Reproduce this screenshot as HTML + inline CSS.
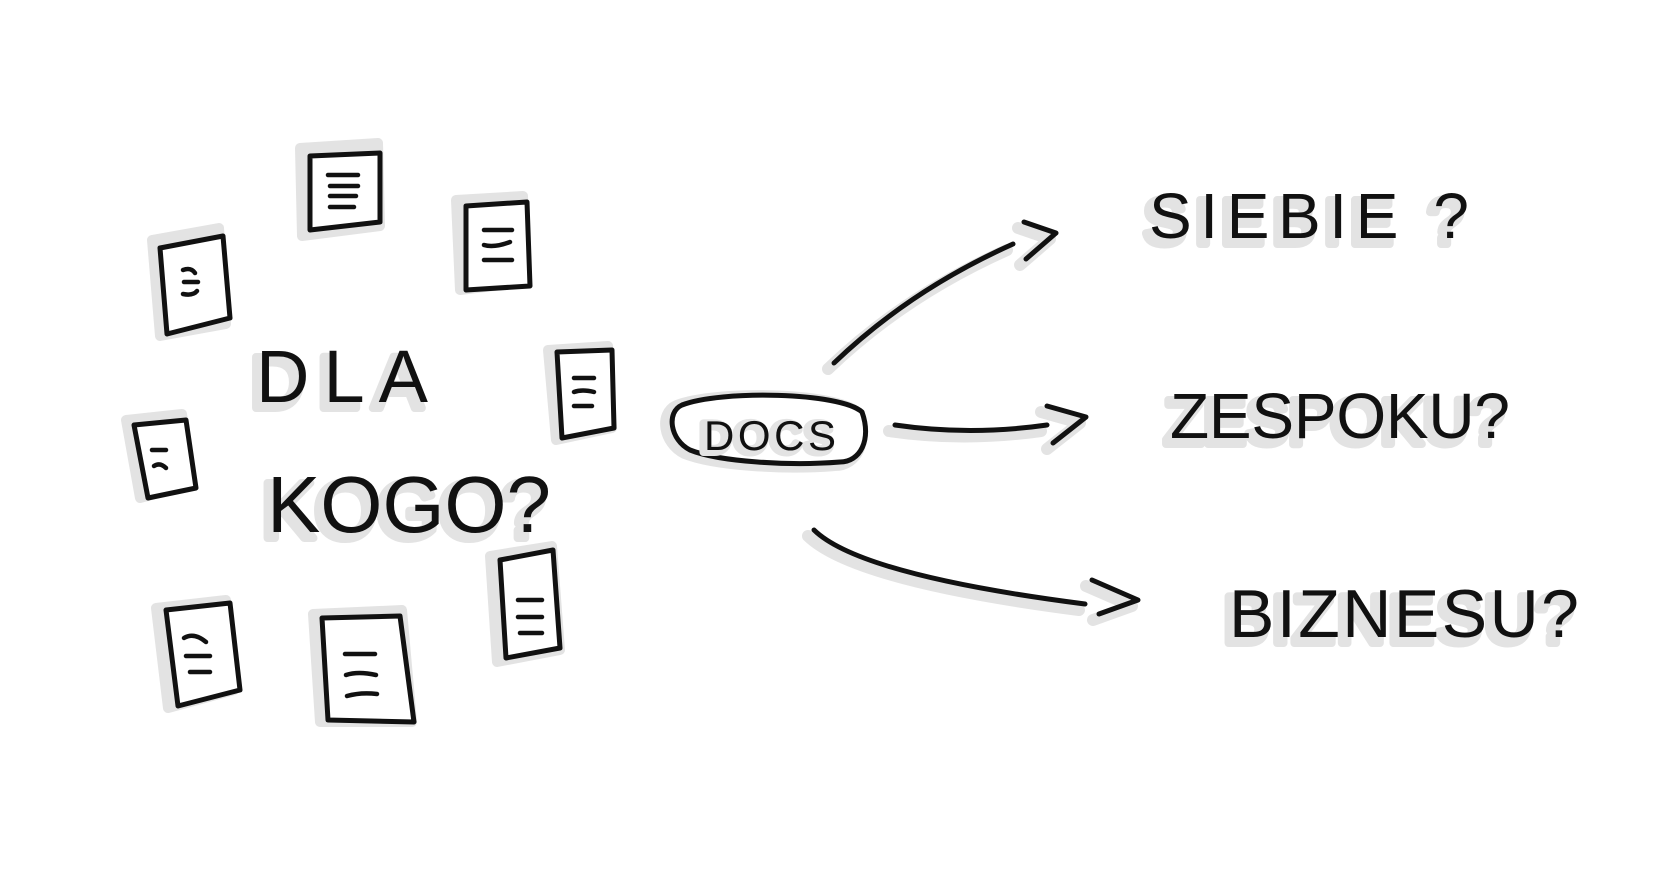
<!DOCTYPE html>
<html><head><meta charset="utf-8"><style>
html,body{margin:0;padding:0;background:#fff;}
svg{display:block}
.t{font-family:"Liberation Sans",sans-serif;font-weight:normal;}
</style></head><body>
<svg width="1667" height="875" viewBox="0 0 1667 875" xmlns="http://www.w3.org/2000/svg">
<g fill="none" stroke-linecap="round" stroke-linejoin="round">
<g fill="#e3e3e3" stroke="#e3e3e3" stroke-width="10">
<polygon points="300,148 378,143 380,226 302,236"/>
<polygon points="152,240 219,228 226,324 160,336"/>
<polygon points="456,200 523,196 526,282 460,290"/>
<polygon points="548,350 608,346 612,428 556,440"/>
<polygon points="126,420 182,414 192,484 140,498"/>
<polygon points="156,608 226,600 234,690 168,708"/>
<polygon points="313,614 402,610 412,722 320,722"/>
<polygon points="490,556 552,546 560,650 497,662"/>
</g>
<g fill="#fff" stroke="#111" stroke-width="5">
<polygon points="310,156 380,153 380,222 310,230"/>
<polygon points="160,248 223,236 230,318 167,334"/>
<polygon points="466,206 527,202 530,286 466,290"/>
<polygon points="557,352 612,350 614,428 562,438"/>
<polygon points="134,425 186,420 196,488 148,498"/>
<polygon points="166,610 230,603 240,690 178,706"/>
<polygon points="322,618 400,616 414,722 328,720"/>
<polygon points="500,560 553,550 560,648 506,658"/>
</g>
<g stroke="#111" stroke-width="4.5">
<path d="M328,175 h30 M330,186 h28 M330,196 h26 M330,207 h24"/>
<path d="M183,270 q8,-3 12,3 M184,282 h14 M183,294 q10,2 14,-3"/>
<path d="M484,230 h28 M484,245 q10,3 26,-3 M484,260 h28"/>
<path d="M574,378 h20 M574,392 q8,-3 20,0 M574,406 h18"/>
<path d="M152,450 h14 M154,466 q6,-4 12,2"/>
<path d="M184,638 q10,-6 22,4 M186,656 h24 M190,672 h20"/>
<path d="M345,654 h30 M346,675 q12,-4 30,0 M347,696 q14,-4 30,-2"/>
<path d="M518,600 h24 M518,617 h24 M520,633 h22"/>
</g>
<path d="M682,405 C720,390 840,392 862,412 C872,440 860,462 840,462 C790,466 720,462 690,450 C670,440 666,412 682,405 Z" stroke="#e3e3e3" stroke-width="14" transform="translate(-5,2)"/>
<path d="M682,405 C720,390 840,392 862,412 C872,440 860,462 840,462 C790,466 720,462 690,450 C670,440 666,412 682,405 Z" stroke="#111" stroke-width="5" fill="#fff"/>
<g stroke="#e3e3e3" stroke-width="12" transform="translate(-6,6)">
<path d="M834,363 Q910,290 1013,244"/>
<path d="M1024,222 L1056,233 L1026,259"/>
<path d="M895,425 Q970,436 1047,425"/>
<path d="M1047,406 L1086,417 L1053,443"/>
<path d="M814,530 Q860,575 1085,604"/>
<path d="M1092,580 L1138,600 L1099,614"/>
</g>
<g stroke="#111" stroke-width="5">
<path d="M834,363 Q910,290 1013,244"/>
<path d="M1024,222 L1056,233 L1026,259"/>
<path d="M895,425 Q970,436 1047,425"/>
<path d="M1047,406 L1086,417 L1053,443"/>
<path d="M814,530 Q860,575 1085,604"/>
<path d="M1092,580 L1138,600 L1099,614"/>
</g>
</g>
<g class="t" fill="#e3e3e3" stroke="#e3e3e3" stroke-width="8" stroke-linejoin="round">
<text x="250" y="408" font-size="74" textLength="172" lengthAdjust="spacing">DLA</text>
<text x="261" y="538" font-size="80" textLength="284" lengthAdjust="spacing">KOGO?</text>
<text x="1143" y="244" font-size="64" textLength="320" lengthAdjust="spacing">SIEBIE ?</text>
<text x="1164" y="444" font-size="64" textLength="340" lengthAdjust="spacing">ZESPOKU?</text>
<text x="1223" y="643" font-size="68" textLength="350" lengthAdjust="spacing">BIZNESU?</text>
<text x="700" y="452" font-size="42" textLength="132" lengthAdjust="spacing">DOCS</text>
</g>
<g class="t" fill="#111" stroke="none">
<text x="256" y="402" font-size="74" textLength="172" lengthAdjust="spacing">DLA</text>
<text x="267" y="532" font-size="80" textLength="284" lengthAdjust="spacing">KOGO?</text>
<text x="1149" y="238" font-size="64" textLength="320" lengthAdjust="spacing">SIEBIE ?</text>
<text x="1170" y="438" font-size="64" textLength="340" lengthAdjust="spacing">ZESPOKU?</text>
<text x="1229" y="637" font-size="68" textLength="350" lengthAdjust="spacing">BIZNESU?</text>
<text x="704" y="450" font-size="42" textLength="132" lengthAdjust="spacing">DOCS</text>
</g>
</svg>
</body></html>
